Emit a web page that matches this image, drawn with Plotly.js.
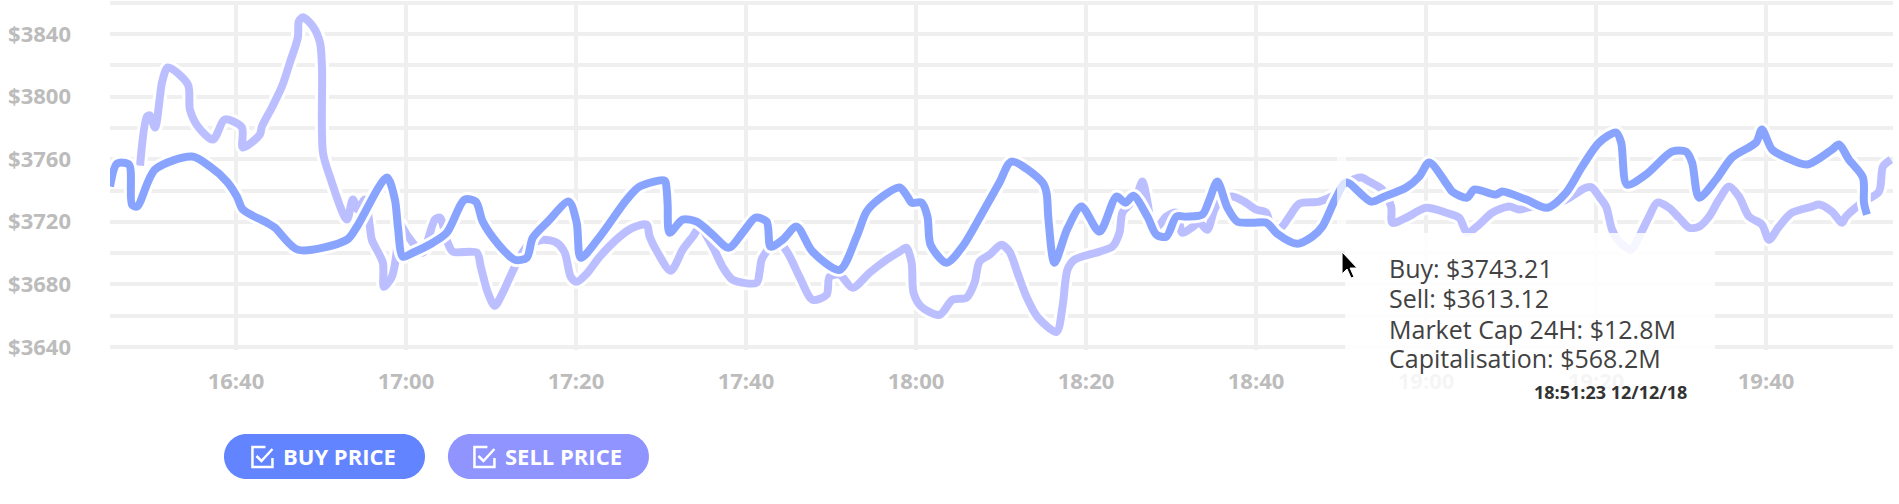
<!DOCTYPE html>
<html>
<head>
<meta charset="utf-8">
<script src="https://cdn.plot.ly/plotly-3.0.1.min.js"></script>
<style>html,body{margin:0;padding:0;background:#fff;}#chart{width:1899px;height:504px;}</style>
</head>
<body>
<div id="chart"></div>
<script>
const DAY = '2018-12-12 ';
const seriesNames = ['BUY PRICE', 'SELL PRICE'];

const buyTime = ['16:25:11','16:26:01','16:27:25','16:27:46','16:28:22','16:30:29','16:34:50','16:36:57','16:38:56','16:40:07',
'16:40:49','16:43:39','16:44:35','16:47:17','16:53:03','16:54:14','16:57:45','16:58:42','16:59:03','16:59:38',
'17:00:49','17:03:10','17:04:48','17:06:55','17:08:13','17:09:02','17:10:55','17:12:48','17:14:13','17:14:55',
'17:16:41','17:19:09','17:20:05','17:20:34','17:22:48','17:25:58','17:27:30','17:30:26','17:30:40','17:30:47',
'17:31:01','17:32:33','17:34:12','17:36:05','17:37:58','17:39:36','17:41:08','17:42:26','17:42:54','17:44:19',
'17:45:57','17:47:50','17:51:01','17:53:01','17:54:11','17:55:43','17:58:04','17:59:00','17:59:29','18:00:39',
'18:01:21','18:01:43','18:03:35','18:05:28','18:07:49','18:09:49','18:11:14','18:14:53','18:15:21','18:15:35',
'18:16:17','18:17:49','18:19:28','18:21:35','18:23:35','18:24:38','18:25:35','18:27:13','18:28:17','18:29:27',
'18:30:38','18:31:48','18:33:41','18:34:31','18:35:27','18:36:38','18:37:48','18:39:34','18:41:13','18:42:30',
'18:44:51','18:46:37','18:47:48','18:49:19','18:50:37','18:53:33','18:55:05','18:57:40','18:59:12','19:00:22',
'19:02:29','19:03:05','19:04:50','19:05:40','19:08:15','19:08:57','19:11:47','19:14:15','19:16:29','19:18:22',
'19:20:22','19:22:22','19:22:57','19:23:39','19:25:53','19:28:57','19:30:35','19:31:18','19:32:07','19:34:07',
'19:36:00','19:38:49','19:39:31','19:40:42','19:42:21','19:44:49','19:47:45','19:48:35','19:49:45','19:51:24',
'19:51:31','19:51:52'];
const buyPrice = [3742.5,3757.2,3756.6,3731.0,3729.7,3753.4,3761.7,3755.3,3745.7,3736.1,
3727.8,3719.4,3716.2,3702.1,3708.5,3716.9,3748.3,3734.2,3716.9,3697.7,
3700.2,3706.6,3713.0,3734.2,3732.9,3720.1,3705.3,3695.7,3697.0,3709.8,
3720.1,3732.9,3719.4,3697.0,3710.5,3734.2,3742.5,3746.3,3740.6,3731.0,
3713.0,3721.4,3720.1,3711.7,3703.4,3713.0,3722.6,3720.1,3704.1,3708.5,
3716.9,3700.9,3689.3,3710.5,3726.5,3734.8,3741.9,3736.1,3732.2,3732.2,
3723.3,3705.3,3693.8,3704.1,3725.8,3745.1,3758.5,3745.1,3738.7,3721.4,
3693.8,3715.6,3729.7,3713.7,3736.1,3732.2,3736.7,3723.3,3711.7,3710.5,
3723.3,3723.3,3724.6,3734.2,3745.7,3729.0,3720.1,3719.4,3719.4,3712.4,
3706.0,3710.5,3716.9,3734.2,3745.1,3732.9,3736.1,3741.9,3748.9,3757.9,
3743.8,3739.3,3735.4,3740.6,3737.4,3739.3,3734.2,3729.0,3738.7,3755.3,
3770.7,3777.1,3770.7,3743.8,3750.2,3764.9,3764.9,3757.9,3735.4,3747.0,
3761.1,3770.7,3779.0,3766.2,3761.1,3756.6,3766.2,3769.4,3759.8,3748.3,
3732.2,3724.6];

const sellTime = ['16:28:43','16:29:32','16:29:53','16:30:29','16:31:04','16:31:18','16:32:00','16:34:21','16:34:35','16:35:32',
'16:37:18','16:38:42','16:40:42','16:40:49','16:42:49','16:43:03','16:44:14','16:45:25','16:46:21','16:47:17',
'16:47:24','16:47:53','16:49:03','16:49:53','16:50:07','16:50:14','16:51:03','16:53:03','16:53:45','16:54:21',
'16:55:10','16:55:45','16:55:59','16:57:17','16:57:24','16:58:20','16:58:56','16:59:03','17:00:06','17:01:17',
'17:01:59','17:03:24','17:03:59','17:04:55','17:05:31','17:08:20','17:08:48','17:09:38','17:10:27','17:11:23',
'17:12:48','17:14:13','17:16:06','17:17:44','17:18:41','17:19:23','17:20:05','17:21:16','17:22:48','17:25:09',
'17:26:40','17:28:19','17:28:40','17:29:37','17:31:09','17:32:33','17:33:44','17:34:33','17:36:05','17:37:15',
'17:38:26','17:41:15','17:41:36','17:41:50','17:42:33','17:43:36','17:44:54','17:46:18','17:47:50','17:49:29',
'17:49:50','17:51:01','17:52:32','17:54:32','17:56:32','17:58:04','17:58:53','17:59:29','17:59:43','18:00:39',
'18:02:46','18:04:18','18:05:56','18:06:53','18:07:28','18:08:39','18:10:03','18:11:00','18:11:56','18:13:00',
'18:14:17','18:16:31','18:17:14','18:17:49','18:18:38','18:21:35','18:23:06','18:23:56','18:24:17','18:25:20',
'18:25:56','18:26:38','18:27:13','18:27:41','18:28:24','18:29:27','18:30:38','18:31:20','18:32:24','18:33:20',
'18:34:16','18:35:06','18:35:55','18:37:13','18:38:37','18:40:02','18:41:13','18:41:55','18:43:05','18:43:55',
'18:45:05','18:47:26','18:49:05','18:50:58','18:52:23','18:53:19','18:54:51','18:55:54','18:56:02','18:57:40',
'19:00:01','19:02:22','19:03:54','19:04:50','19:06:15','19:07:47','19:09:47','19:10:57','19:12:29','19:14:08',
'19:16:29','19:18:50','19:19:32','19:20:22','19:21:11','19:21:53','19:22:43','19:24:07','19:25:04','19:26:14',
'19:27:11','19:28:35','19:29:46','19:30:57','19:32:07','19:33:18','19:34:28','19:35:39','19:36:49','19:38:00',
'19:39:31','19:40:21','19:41:31','19:43:03','19:45:24','19:46:14','19:47:45','19:48:56','19:49:24','19:51:17',
'19:53:17','19:53:45','19:54:41'];
const sellPrice = [3755.9,3787.3,3788.0,3780.3,3800.2,3809.1,3818.7,3807.8,3791.8,3780.9,
3772.6,3785.4,3780.3,3767.5,3775.8,3780.9,3793.1,3806.6,3821.9,3837.9,
3848.2,3850.8,3845.0,3834.7,3819.4,3764.3,3748.9,3721.4,3734.2,3727.8,
3734.2,3716.9,3708.5,3693.8,3678.4,3684.8,3702.1,3720.1,3711.7,3703.4,
3700.2,3721.4,3722.6,3706.6,3700.9,3700.2,3691.2,3674.6,3666.3,3674.6,
3691.2,3704.1,3708.5,3706.6,3700.2,3684.8,3681.6,3686.8,3697.7,3710.5,
3716.2,3718.2,3710.5,3700.2,3688.7,3702.1,3710.5,3716.2,3704.1,3691.2,
3682.9,3681.0,3688.0,3695.7,3702.1,3708.5,3700.2,3684.8,3670.1,3673.3,
3684.8,3686.1,3677.8,3687.4,3695.7,3700.9,3703.4,3693.8,3674.6,3665.6,
3660.5,3670.1,3671.4,3681.0,3694.5,3698.9,3705.3,3700.9,3687.4,3672.0,
3659.2,3649.6,3665.6,3689.3,3695.7,3700.9,3704.1,3713.0,3725.8,3732.2,
3736.1,3745.7,3732.9,3720.1,3716.9,3723.3,3725.8,3713.0,3716.2,3719.4,
3714.9,3727.8,3734.2,3736.1,3732.9,3727.8,3725.8,3713.0,3716.9,3723.3,
3731.6,3732.9,3736.7,3745.7,3748.3,3745.7,3740.6,3729.7,3719.4,3722.6,
3729.0,3725.8,3722.6,3713.0,3718.2,3725.8,3729.7,3727.8,3729.7,3729.7,
3734.2,3741.9,3741.9,3736.1,3729.7,3715.0,3707.3,3702.1,3710.5,3723.3,
3732.2,3729.0,3722.6,3716.2,3716.9,3723.3,3734.2,3742.5,3736.1,3723.3,
3718.2,3708.5,3716.9,3725.8,3729.7,3731.0,3726.5,3719.4,3723.3,3732.2,
3739.3,3755.3,3759.8];

const tooltipLabels = ['Buy', 'Sell', 'Market Cap 24H', 'Capitalisation'];
const tooltipValues = ['$3743.21', '$3613.12', '$12.8M', '$568.2M'];
const tooltipStamp = '18:51:23 12/12/18';

const BUY_COLOR = 'rgb(98,133,255)';
const SELL_COLOR = 'rgb(143,148,255)';

const bx = buyTime.map(t => DAY + t);
const sx = sellTime.map(t => DAY + t);

function halo(x, y) {
  return {x, y, type: 'scatter', mode: 'lines', hoverinfo: 'skip',
    line: {color: '#ffffff', width: 14, shape: 'spline', smoothing: 0.8}};
}
const traces = [
  halo(sx, sellPrice),
  {x: sx, y: sellPrice, name: seriesNames[1], type: 'scatter', mode: 'lines',
   line: {color: 'rgba(143,148,255,0.6)', width: 8, shape: 'spline', smoothing: 0.8}},
  halo(bx, buyPrice),
  {x: bx, y: buyPrice, name: seriesNames[0], type: 'scatter', mode: 'lines',
   line: {color: 'rgba(98,133,255,0.75)', width: 8, shape: 'spline', smoothing: 0.8}}
];

const GRID = '#efefef';
const tickFont = {family: 'Open Sans', size: 22, color: '#bcbcbc', weight: 700};

function pill(xc, color) {
  return {type: 'path', xref: 'paper', yref: 'paper', xsizemode: 'pixel', ysizemode: 'pixel',
    xanchor: xc, yanchor: -0.3052, layer: 'above', fillcolor: color, line: {width: 0},
    path: 'M -78,-22.5 L 78,-22.5 C 90.4,-22.5 100.5,-12.4 100.5,0 C 100.5,12.4 90.4,22.5 78,22.5 ' +
          'L -78,22.5 C -90.4,22.5 -100.5,12.4 -100.5,0 C -100.5,-12.4 -90.4,-22.5 -78,-22.5 Z'};
}
function checkIcon(xc) {
  return [
    {type: 'path', xref: 'paper', yref: 'paper', xsizemode: 'pixel', ysizemode: 'pixel',
     xanchor: xc, yanchor: -0.3066, layer: 'above', fillcolor: 'rgba(0,0,0,0)',
     line: {color: '#ffffff', width: 2.5},
     path: 'M 3,10 L -10,10 L -10,-10 L 10,-10 L 10,-1'},
    {type: 'path', xref: 'paper', yref: 'paper', xsizemode: 'pixel', ysizemode: 'pixel',
     xanchor: xc, yanchor: -0.3066, layer: 'above', fillcolor: 'rgba(0,0,0,0)',
     line: {color: '#ffffff', width: 2.5},
     path: 'M -6,1 L -1,-4 L 10,8'}
  ];
}

const shapes = [
  {type: 'rect', xref: 'paper', yref: 'paper', x0: 0.6927, x1: 0.9002, y0: -0.166, y1: 0.3352,
   fillcolor: 'rgba(255,255,255,0.85)', line: {width: 0}, layer: 'above'},
  {type: 'rect', xref: 'paper', yref: 'paper', x0: 0.6882, x1: 0.6932, y0: 0.335, y1: 0.573,
   fillcolor: 'rgba(255,255,255,0.7)', line: {width: 0}, layer: 'above'},
  {type: 'path', xref: 'paper', yref: 'paper', xsizemode: 'pixel', ysizemode: 'pixel',
   xanchor: 0.6910, yanchor: 0.2808, layer: 'above', fillcolor: '#000000',
   line: {color: '#ffffff', width: 1},
   path: 'M 0,0 L 0,-22 L 5,-17 L 9,-26 L 12,-25 L 8,-16 L 15,-16 Z'},
  pill(0.1203, BUY_COLOR),
  pill(0.2459, SELL_COLOR),
  ...checkIcon(0.0855),
  ...checkIcon(0.2100)
];

const tipY = [0.2350, 0.1490, 0.0616, -0.0229];
const annotations = tooltipLabels.map((l, i) => ({
  xref: 'paper', yref: 'paper', x: 0.7168, y: tipY[i], xanchor: 'left', yanchor: 'middle',
  align: 'left', showarrow: false, borderpad: 0,
  text: l + ': ' + tooltipValues[i],
  font: {family: 'Open Sans', size: 25, color: '#424242'}
})).concat([
  {xref: 'paper', yref: 'paper', x: 0.8413, y: -0.1203, xanchor: 'center', yanchor: 'middle',
   showarrow: false, text: tooltipStamp,
   font: {family: 'Open Sans', size: 18, color: '#333333', weight: 700}},
  {xref: 'paper', yref: 'paper', x: 0.1287, y: -0.3037, xanchor: 'center', yanchor: 'middle',
   showarrow: false, text: seriesNames[0],
   font: {family: 'Open Sans', size: 22, color: '#ffffff', weight: 700}},
  {xref: 'paper', yref: 'paper', x: 0.2546, y: -0.3037, xanchor: 'center', yanchor: 'middle',
   showarrow: false, text: seriesNames[1],
   font: {family: 'Open Sans', size: 22, color: '#ffffff', weight: 700}}
]);

const layout = {
  width: 1899, height: 504,
  margin: {l: 110, r: 6, t: 1, b: 154},
  paper_bgcolor: '#ffffff', plot_bgcolor: '#ffffff',
  showlegend: false,
  xaxis: {
    type: 'date',
    range: [DAY + '16:25:11', DAY + '19:54:56'],
    tick0: DAY + '16:40:00', dtick: 1200000, tickformat: '%H:%M',
    showgrid: true, gridcolor: GRID, gridwidth: 4,
    zeroline: false, showline: false, ticks: '',
    ticklabelstandoff: 16, tickfont: tickFont
  },
  yaxis: {
    range: [3638, 3861.2],
    tick0: 3640, dtick: 40, tickprefix: '$', tickformat: 'd',
    showgrid: true, gridcolor: GRID, gridwidth: 4,
    minor: {tick0: 3640, dtick: 20, showgrid: true, gridcolor: GRID, gridwidth: 4, ticks: ''},
    zeroline: false, showline: false, ticks: '',
    ticklabelstandoff: 38, tickfont: tickFont
  },
  shapes: shapes,
  annotations: annotations
};

Plotly.newPlot('chart', traces, layout, {staticPlot: true, displayModeBar: false});
</script>
</body>
</html>
